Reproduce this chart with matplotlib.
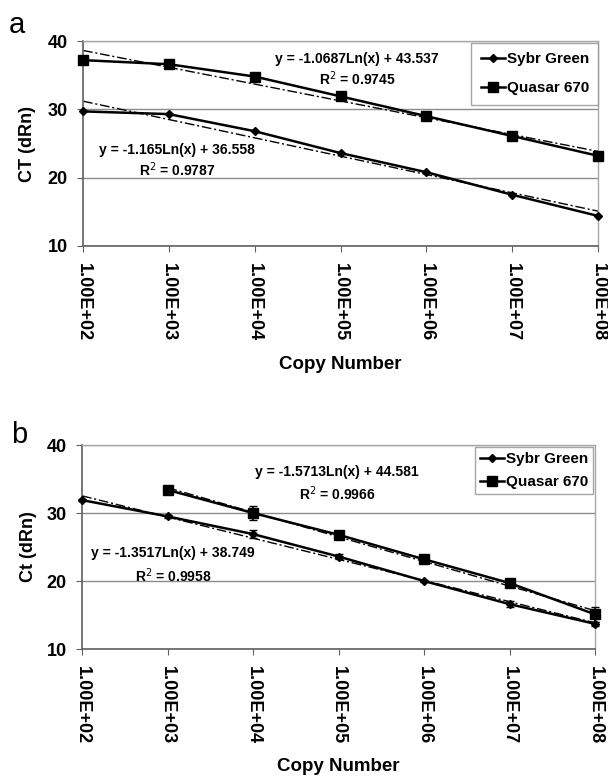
import matplotlib
matplotlib.use("Agg")
import matplotlib.pyplot as plt
import numpy as np

plt.rcParams['font.family'] = ['Liberation Sans', 'DejaVu Sans']

copy_number = [1e2, 1e3, 1e4, 1e5, 1e6, 1e7, 1e8]
tick_labels = ["1.00E+02", "1.00E+03", "1.00E+04", "1.00E+05", "1.00E+06", "1.00E+07", "1.00E+08"]

# Panel a
a_sybr = [29.7, 29.3, 26.8, 23.6, 20.8, 17.5, 14.4]
a_quasar = [37.2, 36.6, 34.8, 31.9, 29.0, 26.1, 23.2]
a_sybr_fit = (-1.165, 36.558)
a_quasar_fit = (-1.0687, 43.537)
a_sybr_eq = "y = -1.165Ln(x) + 36.558"
a_sybr_r2 = "R$^2$ = 0.9787"
a_quasar_eq = "y = -1.0687Ln(x) + 43.537"
a_quasar_r2 = "R$^2$ = 0.9745"

# Panel b
b_copy_sybr = [1e2, 1e3, 1e4, 1e5, 1e6, 1e7, 1e8]
b_sybr = [31.9, 29.5, 26.9, 23.6, 20.0, 16.6, 13.7]
b_sybr_err = [0.2, 0.2, 0.6, 0.3, 0.2, 0.4, 0.3]
b_copy_quasar = [1e3, 1e4, 1e5, 1e6, 1e7, 1e8]
b_quasar = [33.4, 30.0, 26.8, 23.2, 19.7, 15.1]
b_quasar_err = [0.5, 1.1, 0.5, 0.3, 0.4, 1.1]
b_sybr_fit = (-1.3517, 38.749)
b_quasar_fit = (-1.5713, 44.581)
b_sybr_eq = "y = -1.3517Ln(x) + 38.749"
b_sybr_r2 = "R$^2$ = 0.9958"
b_quasar_eq = "y = -1.5713Ln(x) + 44.581"
b_quasar_r2 = "R$^2$ = 0.9966"

W, H = 608, 776
fig = plt.figure(figsize=(W / 100, H / 100), dpi=100)


def ax_rect(l, t, r, b):
    return [l / W, 1 - b / H, (r - l) / W, (b - t) / H]


def px_text(x, y, s, **kw):
    fig.text(x / W, 1 - y / H, s, **kw)


def style_axes(ax, ylabel, xlab_y, ylab_x):
    ax.set_xscale('log')
    ax.set_xlim(1e2, 1e8)
    ax.set_ylim(10, 40)
    ax.set_yticks([10, 20, 30, 40])
    ax.set_xticks(copy_number)
    ax.set_xticklabels(tick_labels, rotation=-90, fontsize=13, fontweight='bold')
    ax.minorticks_off()
    for lab in ax.get_yticklabels():
        lab.set_fontsize(13)
        lab.set_fontweight('bold')
    ax.yaxis.grid(True, color='#8c8c8c', lw=1.0)
    ax.set_axisbelow(True)
    for s in ['top', 'right']:
        ax.spines[s].set_color('#a8a8a8')
        ax.spines[s].set_linewidth(1.0)
    for s in ['left', 'bottom']:
        ax.spines[s].set_color('#606060')
        ax.spines[s].set_linewidth(1.2)
    ax.tick_params(axis='x', direction='out', length=4.5, color='#606060', pad=8)
    ax.tick_params(axis='y', direction='out', length=4, color='#606060', pad=7)
    ax.set_ylabel(ylabel, fontsize=13, fontweight='bold', va='center')
    ax.yaxis.set_label_coords(ylab_x, 0.5)
    ax.set_xlabel("Copy Number", fontsize=13.5, fontweight='bold', va='center')
    ax.xaxis.set_label_coords(0.5, xlab_y)


def trend(ax, xs, coef):
    xx = np.logspace(np.log10(xs[0]), np.log10(xs[-1]), 100)
    ax.plot(xx, coef[0] * np.log(xx) + coef[1], color='black', lw=1.0,
            ls=(0, (7, 2, 1.5, 2)), zorder=2)


# ---- Panel a ----
ax1 = fig.add_axes(ax_rect(83, 41, 598, 246))
style_axes(ax1, "CT (dRn)", -0.576, -0.107)
l1, = ax1.plot(copy_number, a_sybr, color='black', lw=1.8, marker='D', ms=4.5, zorder=3,
               label="Sybr Green", clip_on=False)
l2, = ax1.plot(copy_number, a_quasar, color='black', lw=1.8, marker='s', ms=6.5, zorder=3,
               label="Quasar 670", clip_on=False)
trend(ax1, copy_number, a_sybr_fit)
trend(ax1, copy_number, a_quasar_fit)
leg1 = ax1.legend(handles=[l1, l2], loc='upper right', bbox_to_anchor=(1.0, 0.99),
                  frameon=True, fancybox=False, edgecolor='#909090',
                  prop={'weight': 'bold', 'size': 11}, handlelength=1.6, handletextpad=0.1,
                  labelspacing=1.0, borderpad=0.6, borderaxespad=0.0)
leg1.get_frame().set_linewidth(1.0)

px_text(357, 59, a_quasar_eq, ha='center', va='center', fontsize=10, fontweight='bold')
px_text(357, 79, a_quasar_r2, ha='center', va='center', fontsize=10, fontweight='bold')
px_text(177, 150, a_sybr_eq, ha='center', va='center', fontsize=10, fontweight='bold')
px_text(177, 170, a_sybr_r2, ha='center', va='center', fontsize=10, fontweight='bold')
px_text(9, 25, "a", ha='left', va='center', fontsize=21)

# ---- Panel b ----
ax2 = fig.add_axes(ax_rect(82, 445, 595, 649))
style_axes(ax2, "Ct (dRn)", -0.578, -0.105)
m1 = ax2.errorbar(b_copy_sybr, b_sybr, yerr=b_sybr_err, color='black', lw=1.8, marker='D',
                  ms=4.5, capsize=3, elinewidth=1.2, zorder=3, label="Sybr Green", clip_on=False)
m2 = ax2.errorbar(b_copy_quasar, b_quasar, yerr=b_quasar_err, color='black', lw=1.8, marker='s',
                  ms=6.5, capsize=3, elinewidth=1.2, zorder=3, label="Quasar 670", clip_on=False)
trend(ax2, b_copy_sybr, b_sybr_fit)
trend(ax2, b_copy_quasar, b_quasar_fit)
leg2 = ax2.legend(handles=[m1.lines[0], m2.lines[0]], labels=["Sybr Green", "Quasar 670"],
                  loc='upper right', bbox_to_anchor=(0.996, 0.99),
                  frameon=True, fancybox=False, edgecolor='#909090',
                  prop={'weight': 'bold', 'size': 11}, handlelength=1.6, handletextpad=0.1,
                  labelspacing=0.6, borderpad=0.32, borderaxespad=0.0)
leg2.get_frame().set_linewidth(1.0)

px_text(337, 472, b_quasar_eq, ha='center', va='center', fontsize=10, fontweight='bold')
px_text(337, 494, b_quasar_r2, ha='center', va='center', fontsize=10, fontweight='bold')
px_text(173, 553, b_sybr_eq, ha='center', va='center', fontsize=10, fontweight='bold')
px_text(173, 576, b_sybr_r2, ha='center', va='center', fontsize=10, fontweight='bold')
px_text(11, 435, "b", ha='left', va='center', fontsize=21)

fig.savefig("out.png", dpi=100)
